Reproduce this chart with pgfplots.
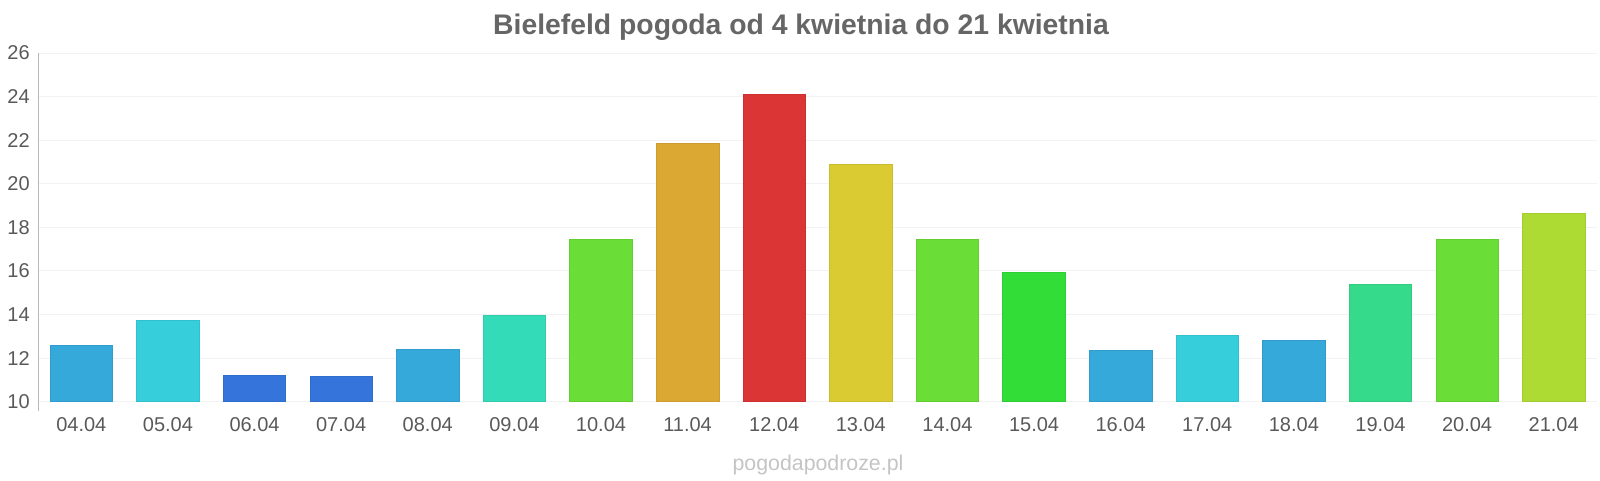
\documentclass[border=0pt]{standalone}
\usepackage{pgfplots}
\pgfplotsset{compat=1.18}
\usepackage{fontspec}
\setmainfont{Liberation Sans}
\definecolor{cBlue}{HTML}{36A9DB}
\definecolor{cCyan}{HTML}{36CEDB}
\definecolor{cDark}{HTML}{3575DB}
\definecolor{cTeal}{HTML}{34DBB9}
\definecolor{cGreen}{HTML}{6ADD36}
\definecolor{cOrange}{HTML}{DBA834}
\definecolor{cRed}{HTML}{DB3535}
\definecolor{cYellow}{HTML}{DBCB33}
\definecolor{cGreen2}{HTML}{33DD38}
\definecolor{cSea}{HTML}{35DB8A}
\definecolor{cLime}{HTML}{AEDB33}
\definecolor{txt}{HTML}{595959}
\definecolor{ttl}{HTML}{666666}
\definecolor{wm}{HTML}{C4C4C4}
\tikzset{bb/.style={fill=#1, draw=#1!93!black, line width=0.5pt, bar shift=0pt}}
\begin{document}
\begin{tikzpicture}
\useasboundingbox (0,0) rectangle (1200pt,360pt);
\node[font=\bfseries\fontsize{21.25pt}{25pt}\selectfont, text=ttl] at (600.75pt,339.75pt) {Bielefeld pogoda od 4 kwietnia do 21 kwietnia};
\node[font=\fontsize{16pt}{19pt}\selectfont, text=wm] at (613.5pt,11.25pt) {pogodapodroze.pl};
\begin{axis}[
  at={(28.5pt,58.7pt)}, anchor=south west,
  scale only axis, width=1169.25pt, height=261.5pt,
  ybar, bar width=46.875pt,
  xmin=-0.5, xmax=17.5, ymin=10, ymax=26,
  xtick={0,...,17},
  xticklabels={04.04,05.04,06.04,07.04,08.04,09.04,10.04,11.04,12.04,13.04,14.04,15.04,16.04,17.04,18.04,19.04,20.04,21.04},
  ytick={10,12,...,26},
  axis lines=left,
  axis line style={-},
  x axis line style={draw=none},
  y axis line style={draw=gray!55, line width=0.75pt, shorten <=-7pt},
  major tick length=0pt,
  ymajorgrids, grid style={draw=black!5, line width=0.75pt},
  tick label style={font=\fontsize{15pt}{18pt}\selectfont, text=txt},
  /pgf/number format/assume math mode=true,
  yticklabel style={anchor=east, inner sep=0pt, xshift=-6pt},
  xticklabel style={anchor=base, inner sep=0pt, yshift=-22.5pt},
]
\addplot[bb=cBlue]   coordinates {(0,12.60)};
\addplot[bb=cCyan]   coordinates {(1,13.72)};
\addplot[bb=cDark]   coordinates {(2,11.19)};
\addplot[bb=cDark]   coordinates {(3,11.15)};
\addplot[bb=cBlue]   coordinates {(4,12.42)};
\addplot[bb=cTeal]   coordinates {(5,13.98)};
\addplot[bb=cGreen]  coordinates {(6,17.45)};
\addplot[bb=cOrange] coordinates {(7,21.88)};
\addplot[bb=cRed]    coordinates {(8,24.09)};
\addplot[bb=cYellow] coordinates {(9,20.90)};
\addplot[bb=cGreen]  coordinates {(10,17.46)};
\addplot[bb=cGreen2] coordinates {(11,15.93)};
\addplot[bb=cBlue]   coordinates {(12,12.38)};
\addplot[bb=cCyan]   coordinates {(13,13.05)};
\addplot[bb=cBlue]   coordinates {(14,12.84)};
\addplot[bb=cSea]    coordinates {(15,15.38)};
\addplot[bb=cGreen]  coordinates {(16,17.44)};
\addplot[bb=cLime]   coordinates {(17,18.63)};
\end{axis}
\end{tikzpicture}
\end{document}
